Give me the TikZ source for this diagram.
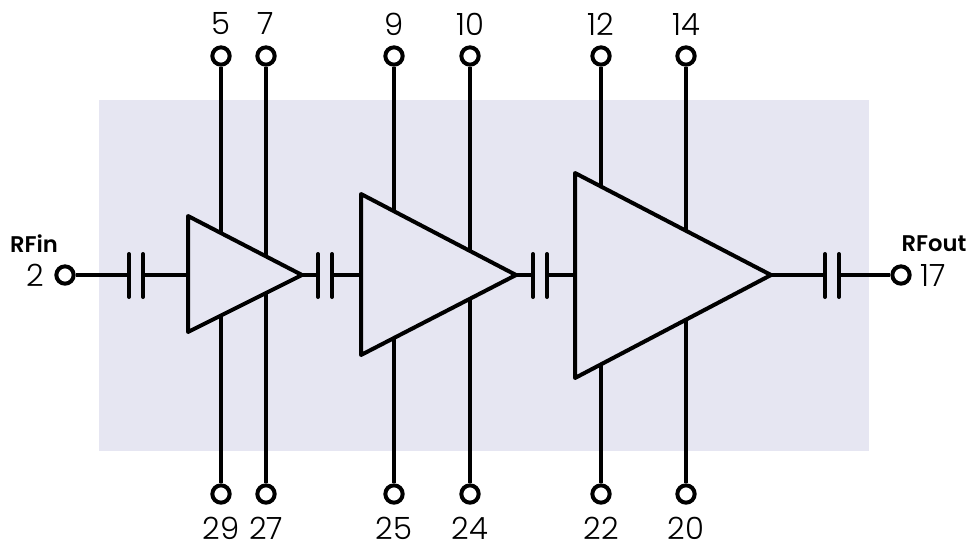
\documentclass[tikz,border=0pt]{standalone}
\usepackage{fontspec}
\setmainfont{Poppins Light}
\newfontfamily\boldlabel{Poppins SemiBold}
\definecolor{panel}{HTML}{E6E6F2}
\tikzset{
  wire/.style={line width=3pt,black},
  plate/.style={line width=3pt,black,line cap=round},
  amp/.style={line width=3pt,black,fill=panel,line join=round},
  pin/.style={circle,draw=black,fill=white,line width=3pt,minimum size=13pt,inner sep=0pt},
  num/.style={font=\fontsize{23}{23}\selectfont,inner sep=0pt,text=black},
  rf/.style={font=\boldlabel\fontsize{17}{17}\selectfont,inner sep=0pt,text=black}
}
\begin{document}
\begin{tikzpicture}[x=0.75pt,y=-0.75pt]
\useasboundingbox (0,0) rectangle (970,544);
\fill[panel] (99,100) rectangle (869,451);
% pins
\foreach \n/\x in {5/221,7/266,9/394,10/470,12/601,14/686}
  \node[pin] (p\n) at (\x,56) {};
\foreach \n/\x in {29/221,27/266,25/394,24/470,22/601,20/686}
  \node[pin] (p\n) at (\x,494) {};
\node[pin] (p2) at (65,275) {};
\node[pin] (p17) at (901,275) {};
% leads
\foreach \a/\b in {5/29,7/27,9/25,10/24,12/22,14/20}
  \draw[wire] (p\a) -- (p\b);
% amplifiers
\coordinate (a1t) at (188,216); \coordinate (a1b) at (188,332); \coordinate (a1o) at (302,275); \coordinate (a1i) at (188,275);
\coordinate (a2t) at (361,194); \coordinate (a2b) at (361,355); \coordinate (a2o) at (516,275); \coordinate (a2i) at (361,275);
\coordinate (a3t) at (575,173); \coordinate (a3b) at (575,378); \coordinate (a3o) at (771,275); \coordinate (a3i) at (575,275);
\foreach \k in {1,2,3}
  \draw[amp] (a\k t) -- (a\k o) -- (a\k b) -- cycle;
% capacitors
\foreach \c/\l/\r in {A/129/143,B/318/332,C/533/547,D/825/839}{
  \coordinate (\c l) at (\l,275); \coordinate (\c r) at (\r,275);
  \draw[plate] (\l,254) -- (\l,297);
  \draw[plate] (\r,254) -- (\r,297);
}
\draw[wire] (p2) -- (Al);
\draw[wire] (Ar) -- (a1i);
\draw[wire] (a1o) -- (Bl);
\draw[wire] (Br) -- (a2i);
\draw[wire] (a2o) -- (Cl);
\draw[wire] (Cr) -- (a3i);
\draw[wire] (a3o) -- (Dl);
\draw[wire] (Dr) -- (p17);
% labels
\foreach \n/\x in {5/221,7/266,9/394,10/470,12/601,14/686}
  \node[num] (t\n) at (\x,24) {\n};
\foreach \n/\x in {29/221,27/266,25/394,24/470,22/601,20/686}
  \node[num] (t\n) at (\x,528) {\n};
\node[num] (t2) at (35,275) {2};
\node[num] (t17) at (933,275) {17};
\node[rf] (tin) at (34,244) {RFin};
\node[rf] (tout) at (934,244) {RFout};
\end{tikzpicture}
\end{document}
